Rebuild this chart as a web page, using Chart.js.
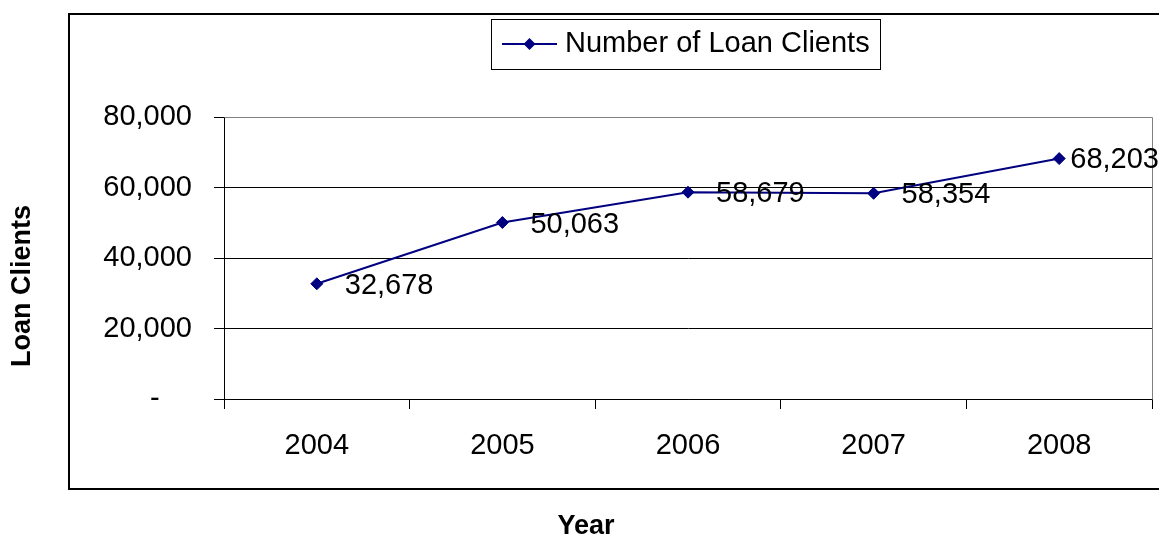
<!DOCTYPE html>
<html>
<head>
<meta charset="utf-8">
<title>Number of Loan Clients</title>
<script src="https://cdn.jsdelivr.net/npm/chart.js@4.4.1/dist/chart.umd.min.js"></script>
<style>
  html, body { margin: 0; padding: 0; background: #fff; overflow: hidden; }
  #wrap { width: 1159px; height: 539px; position: relative; }
</style>
</head>
<body>
<div id="wrap"><canvas id="c" width="1159" height="539"></canvas></div>
<script>
// Data
const years = ['2004', '2005', '2006', '2007', '2008'];
const loanClients = [32678, 50063, 58679, 58354, 68203];
const yTickValues = [0, 20000, 40000, 60000, 80000];
const seriesName = 'Number of Loan Clients';
const xTitleText = 'Year';
const yTitleText = 'Loan Clients';

const FONT = '"Liberation Sans", Arial, Helvetica, sans-serif';
const NAVY = '#000080';

function fmt(v) {
  return v.toLocaleString('en-US');
}

// Outer frame, legend box, axis titles and point labels
const decor = {
  id: 'decor',
  beforeDraw(chart) {
    const ctx = chart.ctx;
    ctx.save();
    ctx.fillStyle = '#fff';
    ctx.fillRect(0, 0, chart.width, chart.height);
    ctx.restore();
  },
  beforeDatasetsDraw(chart) {
    const ctx = chart.ctx;
    const a = chart.chartArea;
    ctx.save();
    // plot area top/right edges
    ctx.strokeStyle = '#808080';
    ctx.lineWidth = 1;
    ctx.beginPath();
    ctx.moveTo(Math.round(a.left) + 0.5, Math.round(a.top) + 0.5);
    ctx.lineTo(Math.round(a.right) + 0.5, Math.round(a.top) + 0.5);
    ctx.lineTo(Math.round(a.right) + 0.5, Math.round(a.bottom) + 0.5);
    ctx.stroke();
    ctx.restore();
  },
  afterDatasetsDraw(chart) {
    const ctx = chart.ctx;
    const meta = chart.getDatasetMeta(0);
    const data = chart.data.datasets[0].data;
    ctx.save();
    ctx.fillStyle = '#000';
    ctx.font = '29px ' + FONT;
    ctx.textAlign = 'left';
    ctx.textBaseline = 'middle';
    meta.data.forEach((pt, i) => {
      const txt = fmt(data[i]);
      const w = ctx.measureText(txt).width;
      // labels sit right of the marker, pulled back in when they would run off the canvas
      let x = pt.x + 28;
      let y = pt.y + 2;
      if (x + w > chart.width) {
        x = Math.max(pt.x + 9, chart.width - w);
        y = pt.y + 1;
      }
      ctx.fillText(txt, x, y);
    });
    ctx.restore();
  },
  afterDraw(chart) {
    const ctx = chart.ctx;
    ctx.save();

    // outer chart frame
    ctx.strokeStyle = '#000';
    ctx.lineWidth = 2;
    ctx.strokeRect(69, 14, 1100, 475);

    // legend
    ctx.strokeStyle = '#000';
    ctx.lineWidth = 1;
    ctx.strokeRect(491.5, 19.5, 389, 50);
    ctx.strokeStyle = NAVY;
    ctx.lineWidth = 2;
    ctx.beginPath();
    ctx.moveTo(502, 44);
    ctx.lineTo(557, 44);
    ctx.stroke();
    ctx.fillStyle = NAVY;
    ctx.beginPath();
    ctx.moveTo(529.5, 38);
    ctx.lineTo(535.5, 44);
    ctx.lineTo(529.5, 50);
    ctx.lineTo(523.5, 44);
    ctx.closePath();
    ctx.fill();
    ctx.fillStyle = '#000';
    ctx.font = '29px ' + FONT;
    ctx.textAlign = 'left';
    ctx.textBaseline = 'middle';
    ctx.fillText(seriesName, 565, 44);

    // axis titles
    ctx.font = 'bold 27px ' + FONT;
    ctx.textAlign = 'center';
    ctx.textBaseline = 'middle';
    ctx.fillText(xTitleText, 586, 527);
    ctx.translate(23, 286);
    ctx.rotate(-Math.PI / 2);
    ctx.fillText(yTitleText, 0, 0);

    ctx.restore();
  }
};

new Chart(document.getElementById('c'), {
  type: 'line',
  data: {
    labels: years,
    datasets: [{
      label: seriesName,
      data: loanClients,
      borderColor: NAVY,
      backgroundColor: NAVY,
      borderWidth: 2,
      tension: 0,
      pointStyle: 'rectRot',
      pointRadius: 6,
      pointBorderWidth: 1,
      pointBackgroundColor: NAVY,
      pointBorderColor: NAVY
    }]
  },
  options: {
    responsive: false,
    animation: false,
    devicePixelRatio: 1,
    layout: { padding: { left: 0, right: 7, top: 117, bottom: 0 } },
    plugins: {
      legend: { display: false },
      tooltip: { enabled: false }
    },
    scales: {
      x: {
        type: 'category',
        offset: true,
        afterFit: s => { s.height = 140; },
        grid: {
          offset: true,
          drawOnChartArea: false,
          drawTicks: true,
          tickLength: 10,
          color: '#000',
          lineWidth: 1
        },
        border: { display: true, color: '#000', width: 1 },
        ticks: {
          color: '#000',
          font: { family: FONT, size: 29 },
          padding: 20,
          maxRotation: 0,
          autoSkip: false
        }
      },
      y: {
        min: 0,
        max: 80000,
        afterFit: s => { s.width = 224; },
        afterBuildTicks: s => { s.ticks = yTickValues.map(v => ({ value: v })); },
        grid: {
          drawTicks: true,
          tickLength: 10,
          color: c => (c.tick && c.tick.value === 80000) ? '#808080' : '#000',
          tickColor: '#000',
          lineWidth: 1
        },
        border: { display: true, color: '#000', width: 1 },
        ticks: {
          color: '#000',
          font: { family: FONT, size: 29 },
          padding: 22,
          callback: v => v === 0 ? '-    ' : fmt(v)
        }
      }
    }
  },
  plugins: [decor]
});
</script>
</body>
</html>
